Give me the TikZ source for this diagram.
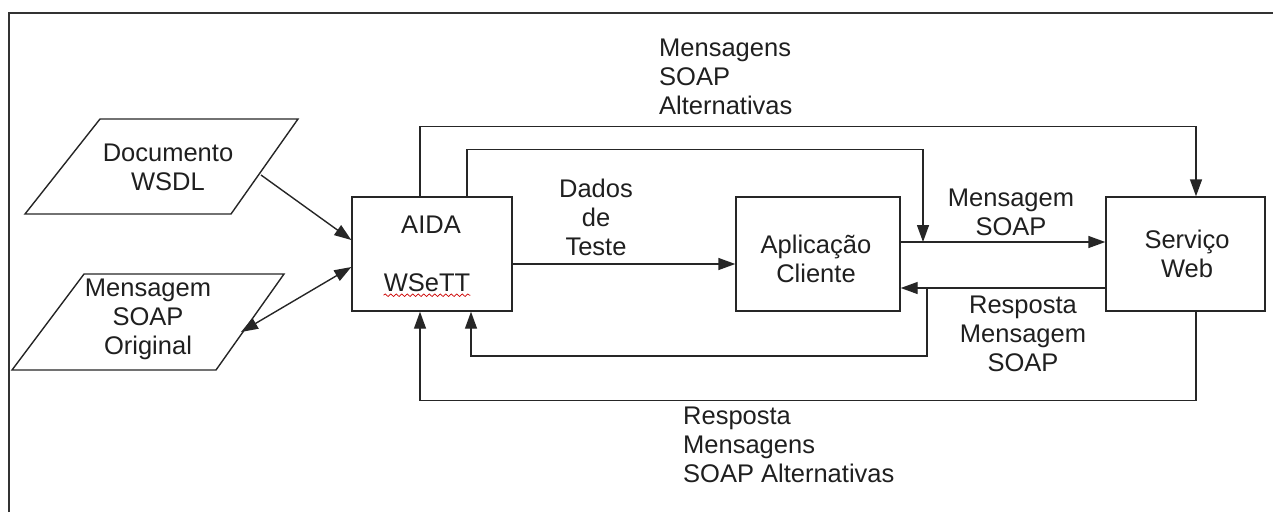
\documentclass[tikz,border=0pt]{standalone}
\usepackage{fontspec}
\setmainfont{Liberation Sans}
\usetikzlibrary{arrows.meta,decorations.pathmorphing}
\begin{document}
\begin{tikzpicture}[x=1pt,y=-1pt,
  conn/.style={line width=1.4pt,draw=black!85},
  arr/.style={conn,-{Triangle[length=17pt,width=12pt]}},
  darr/.style={conn,{Triangle[length=17pt,width=12pt]}-{Triangle[length=17pt,width=12pt]}},
  box/.style={draw=black!85,line width=1.4pt,rectangle,inner sep=0pt},
  lbl/.style={inner sep=0pt,font=\fontsize{25.5}{29}\selectfont,text=black!88},
]
\useasboundingbox (0,0) rectangle (1273,512);

% outer frame (top and left edges)
\draw[line width=1.6pt,black!80] (9,512) -- (9,13) -- (1273,13);

% input documents (parallelograms)
\draw[conn] (100,119) -- (298,119) -- (231,214) -- (25,214) -- cycle;
\node[lbl,align=center] (wsdl) at (168,167) {Documento\\WSDL};
\coordinate (wsdlR) at (261,175);

\draw[conn] (84,274) -- (284,274) -- (216,370) -- (12,370) -- cycle;
\node[lbl,align=center] (orig) at (148,319) {Mensagem\\SOAP\\Original};
\coordinate (origR) at (241,332);

% process boxes
\node[box,minimum width=160,minimum height=114] (aida) at (432,254) {};
\node[lbl] (aidaName) at (431,225) {AIDA};
\node[lbl] (wsett) at (427,283) {WSeTT};
\draw[red!80!black,line width=0.7pt,decorate,
      decoration={snake,amplitude=1.3pt,segment length=5.5pt}]
  ([yshift=-3pt]wsett.south west) -- ([yshift=-3pt]wsett.south east);

\node[box,minimum width=164,minimum height=114] (apl) at (818,254) {};
\node[lbl,align=center] (aplName) at (816,259) {Aplicação\\Cliente};

\node[box,minimum width=159,minimum height=114] (srv) at (1185.5,254) {};
\node[lbl,align=center] (srvName) at (1187,253.5) {Serviço\\Web};

% connector labels
\node[lbl,align=center] (dados) at (596,217.5) {Dados\\de\\Teste};
\node[lbl,align=center] (msoap) at (1011,212.5) {Mensagem\\SOAP};
\node[lbl,align=center] (rsoap) at (1023,334) {Resposta\\Mensagem\\SOAP};
\node[lbl,align=left,anchor=west] (topl) at (659,77) {Mensagens\\SOAP\\Alternativas};
\node[lbl,align=left,anchor=west] (botl) at (683,445) {Resposta\\Mensagens\\SOAP Alternativas};

% connectors
\draw[arr] (wsdlR) -- ([yshift=14pt]aida.west);
\draw[darr] (origR) -- ([yshift=-13pt]aida.west);
\draw[arr] ([yshift=-10pt]aida.east) -- ([yshift=-10pt]apl.west);
\draw[arr] ([yshift=12pt]apl.east) -- ([yshift=12pt]srv.west);
\draw[arr] ([yshift=-34pt]srv.west) -- ([yshift=-34pt]apl.east);

\coordinate (tapA) at (923,242);
\coordinate (tapB) at (927,288);

\draw[arr] ([xshift=-12pt]aida.north) -- ++(0,-70) -| ([xshift=10.5pt]srv.north);
\draw[arr] ([xshift=35pt]aida.north) -- ++(0,-47) -| (tapA);
\draw[arr] (tapB) -- ++(0,68) -| ([xshift=39pt]aida.south);
\draw[arr] ([xshift=10.5pt]srv.south) -- ++(0,89) -| ([xshift=-12pt]aida.south);
\end{tikzpicture}
\end{document}
